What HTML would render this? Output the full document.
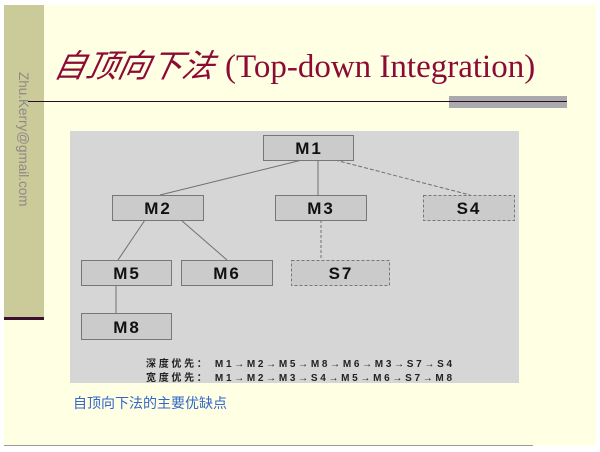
<!DOCTYPE html>
<html><head><meta charset="utf-8"><style>
body{margin:0;width:600px;height:452px;background:#fff;position:relative;overflow:hidden;font-family:"Liberation Sans","Noto Sans CJK SC",sans-serif}
.a{position:absolute}
</style></head><body>
<div class="a" style="left:4px;top:5px;width:592px;height:441px;background:#ffffe3"></div>
<div class="a" style="left:4px;top:5px;width:40px;height:313px;background:#cbcb99"></div>
<div class="a" style="left:4px;top:317px;width:40px;height:3px;background:#3a1030"></div>
<div class="a" style="left:4px;top:445px;width:529px;height:1px;background:#999"></div>
<div class="a" style="left:12px;top:72px;width:22px;height:150px;writing-mode:vertical-rl;font-size:13.5px;color:#8a8a8a;line-height:22px">Zhu.Kerry@gmail.com</div>
<div class="a" style="left:449px;top:96px;width:118px;height:12px;background:#aaa9ad"></div>
<div class="a" style="left:28px;top:101px;width:539px;height:1px;background:#2a0a22"></div>
<div class="a" style="left:55px;top:42px;white-space:nowrap;color:#8c0a35;line-height:44px"><span style="font-family:'Noto Sans CJK SC',sans-serif;font-style:italic;font-size:32px;display:inline-block;transform:skewX(-12deg)">自顶向下法</span><span style="font-family:'Liberation Serif',serif;font-size:33px;margin-left:10px">(Top-down Integration)</span></div>
<svg class="a" style="left:0;top:0" width="600" height="452">
<rect x="70" y="131" width="449" height="252" fill="#d6d6d6"/>
<g stroke="#707070" stroke-width="1" fill="none">
<line x1="302" y1="160" x2="160" y2="195"/><line x1="318" y1="160" x2="318" y2="195"/>
<line x1="335" y1="160" x2="470" y2="195" stroke-dasharray="4,2"/>
<line x1="145" y1="220" x2="118" y2="260"/><line x1="181" y1="220" x2="227" y2="260"/>
<line x1="321" y1="220" x2="321" y2="260" stroke-dasharray="3,2"/>
<line x1="116" y1="285" x2="116" y2="313"/>
</g>
<g fill="#cbcbcb" stroke="#777" stroke-width="1">
<rect x="263.5" y="135.5" width="90" height="25"/>
<rect x="112.5" y="195.5" width="91" height="25"/>
<rect x="275.5" y="195.5" width="91" height="25"/>
<rect x="423.5" y="195.5" width="91" height="25" stroke-dasharray="3,2"/>
<rect x="81.5" y="260.5" width="90" height="25"/>
<rect x="181.5" y="260.5" width="91" height="25"/>
<rect x="291.5" y="260.5" width="98" height="25" stroke-dasharray="3,2"/>
<rect x="81.5" y="313.5" width="90" height="26"/>
</g>
<g font-family="Liberation Sans,sans-serif" font-size="17" font-weight="bold" text-anchor="middle" fill="#111" letter-spacing="2">
<text x="309" y="154">M1</text><text x="158" y="214">M2</text><text x="321" y="214">M3</text><text x="469" y="214">S4</text>
<text x="127" y="279">M5</text><text x="227" y="279">M6</text><text x="341" y="279">S7</text><text x="127" y="333">M8</text>
</g>
<g font-family="Liberation Sans,Noto Sans CJK SC,sans-serif" font-size="10" font-weight="bold" fill="#222">
<text x="146" y="367" textLength="306" lengthAdjust="spacing">深度优先：  M1→M2→M5→M8→M6→M3→S7→S4</text>
<text x="146" y="381" textLength="306" lengthAdjust="spacing">宽度优先：  M1→M2→M3→S4→M5→M6→S7→M8</text>
</g>
</svg>
<div class="a" style="left:73px;top:394px;font-size:14px;color:#3366cc;line-height:18px">自顶向下法的主要优缺点</div>
</body></html>
